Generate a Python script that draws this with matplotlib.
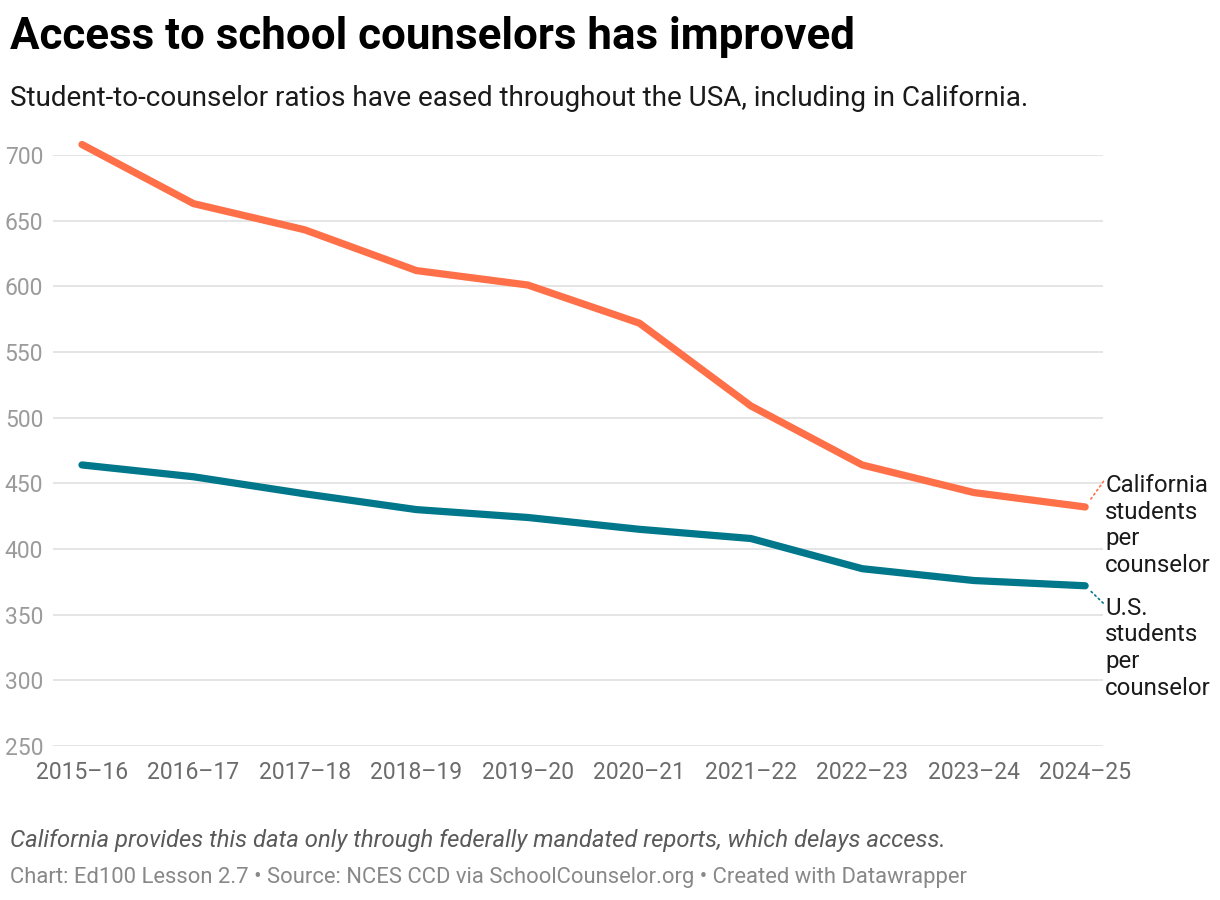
import matplotlib
matplotlib.use("Agg")
import matplotlib.pyplot as plt

plt.rcParams['font.family'] = ['Roboto', 'DejaVu Sans']

years = ["2015–16", "2016–17", "2017–18", "2018–19", "2019–20",
         "2020–21", "2021–22", "2022–23", "2023–24", "2024–25"]
california = [708, 663, 643, 612, 601, 572, 509, 464, 443, 432]
usa = [464, 455, 442, 430, 424, 415, 408, 385, 376, 372]
yticks = [250, 300, 350, 400, 450, 500, 550, 600, 650, 700]

title = "Access to school counselors has improved"
subtitle = "Student-to-counselor ratios have eased throughout the USA, including in California."
note = "California provides this data only through federally mandated reports, which delays access."
credit = "Chart: Ed100 Lesson 2.7 • Source: NCES CCD via SchoolCounselor.org • Created with Datawrapper"
ca_label = "California\nstudents\nper\ncounselor"
us_label = "U.S.\nstudents\nper\ncounselor"

CA_COLOR = "#ff7049"
US_COLOR = "#00778b"

W, H = 1220, 900
fig = plt.figure(figsize=(W / 100, H / 100), dpi=100)
fig.patch.set_facecolor("white")

left, right, top, bottom = 53, 1103, 155, 746
ax = fig.add_axes([left / W, 1 - bottom / H, (right - left) / W, (bottom - top) / H])
ax.set_facecolor("white")

x = list(range(len(years)))
ax.plot(x, california, color=CA_COLOR, lw=5.2, solid_capstyle="round",
        solid_joinstyle="round", clip_on=False, zorder=3)
ax.plot(x, usa, color=US_COLOR, lw=5.2, solid_capstyle="round",
        solid_joinstyle="round", clip_on=False, zorder=3)

ax.set_xlim(-0.26, 9.16)
ax.set_ylim(250, 700)
ax.set_yticks(yticks)
ax.set_yticklabels([str(v) for v in yticks])
ax.set_xticks(x)
ax.set_xticklabels(years)
for s in ax.spines.values():
    s.set_visible(False)
ax.grid(axis="y", color="#e3e3e3", lw=1.3, zorder=0)
ax.grid(axis="x", visible=False)
ax.tick_params(axis="y", length=0, pad=7, labelsize=16.5, labelcolor="#9b9b9b")
ax.tick_params(axis="x", length=0, pad=11, labelsize=16.5, labelcolor="#6b6b6b")
ax.set_axisbelow(True)

LABEL_FS = 17.3
ax.annotate(ca_label, xy=(x[-1], california[-1]), xytext=(20, 33),
            textcoords="offset pixels", ha="left", va="top", fontsize=LABEL_FS,
            color="#1a1a1a", linespacing=1.2, annotation_clip=False,
            arrowprops=dict(arrowstyle="-", linestyle=(0, (1, 2)), color=CA_COLOR,
                            lw=1.2, relpos=(0, 0.95), shrinkA=2, shrinkB=6, patchA=None))
ax.annotate(us_label, xy=(x[-1], usa[-1]), xytext=(20, -11),
            textcoords="offset pixels", ha="left", va="top", fontsize=LABEL_FS,
            color="#1a1a1a", linespacing=1.2, annotation_clip=False,
            arrowprops=dict(arrowstyle="-", linestyle=(0, (1, 2)), color=US_COLOR,
                            lw=1.2, relpos=(0, 0.92), shrinkA=2, shrinkB=6, patchA=None))

fig.text(10 / W, 1 - 37 / H, title, fontsize=31.6, fontweight="bold",
         color="#000000", va="center", ha="left")
fig.text(10 / W, 1 - 98 / H, subtitle, fontsize=20.1, color="#1a1a1a",
         va="center", ha="left")
fig.text(10 / W, 1 - 840 / H, note, fontsize=17.2, style="italic",
         color="#5a5a5a", va="center", ha="left")
fig.text(10 / W, 1 - 877 / H, credit, fontsize=15.8, color="#888888",
         va="center", ha="left")

fig.savefig("out.png", dpi=100, facecolor="white")
